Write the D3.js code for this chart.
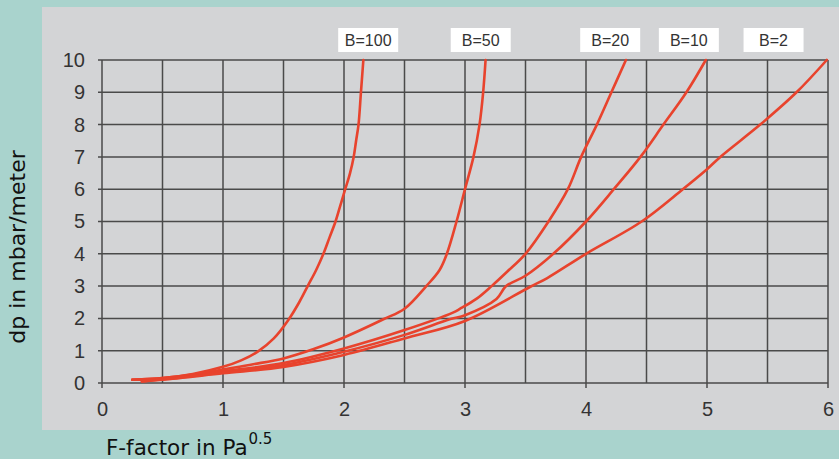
<!DOCTYPE html>
<html><head><meta charset="utf-8">
<script src="https://cdn.jsdelivr.net/npm/d3@7"></script>
<style>body{margin:0;padding:0;background:#a9d3cd;}svg{display:block;}</style>
</head><body>
<svg id="c" width="839" height="459"></svg>
<script>
const xTicks = [0,1,2,3,4,5,6];
const yTicks = [0,1,2,3,4,5,6,7,8,9,10];
const seriesNames = ["B=100","B=50","B=20","B=10","B=2"];
const b100 = [[0.25,0.1],[0.5,0.15],[0.75,0.28],[1.0,0.5],[1.15,0.7],[1.29,0.98],[1.42,1.38],[1.54,1.95],[1.63,2.5],[1.70,3.0],[1.77,3.5],[1.83,4.0],[1.88,4.5],[1.93,5.0],[1.97,5.5],[2.01,6.0],[2.05,6.5],[2.08,7.0],[2.10,7.5],[2.12,8.0],[2.14,9.0],[2.16,10]];
const b50 = [[0.25,0.1],[0.5,0.15],[0.75,0.26],[1.0,0.42],[1.25,0.58],[1.5,0.76],[1.75,1.05],[2.0,1.41],[2.33,1.98],[2.5,2.3],[2.68,3.0],[2.79,3.5],[2.85,4.0],[2.93,5.0],[3.0,6.0],[3.07,7.0],[3.12,8.0],[3.15,9.0],[3.17,10]];
const b20 = [[0.33,0.05],[0.5,0.12],[1.0,0.36],[1.5,0.62],[2.0,1.07],[2.5,1.64],[2.9,2.18],[2.96,2.3],[3.1,2.62],[3.22,3.0],[3.35,3.45],[3.5,4.0],[3.69,5.0],[3.85,6.0],[3.96,7.0],[4.09,8.0],[4.21,9.0],[4.33,10]];
const b10 = [[0.25,0.1],[0.5,0.12],[1.0,0.33],[1.5,0.56],[2.0,0.97],[2.5,1.49],[2.88,1.98],[3.0,2.1],[3.26,2.6],[3.34,3.0],[3.5,3.32],[3.73,4.0],[4.0,5.0],[4.23,6.0],[4.45,7.0],[4.64,8.0],[4.83,9.0],[4.99,10]];
const b2 = [[0.33,0.05],[0.5,0.1],[1.0,0.3],[1.5,0.5],[2.0,0.87],[2.5,1.38],[3.0,1.92],[3.54,2.98],[3.68,3.25],[4.0,4.0],[4.46,5.0],[4.80,6.0],[5.0,6.62],[5.11,7.0],[5.44,8.0],[5.74,9.0],[5.99,10]];
const seriesData = [b100,b50,b20,b10,b2];

const svg = d3.select("#c");
svg.append("rect").attr("x",0).attr("y",0).attr("width",839).attr("height",459).attr("fill","#a9d3cd");
svg.append("rect").attr("x",42).attr("y",7).attr("width",797).attr("height",423).attr("fill","#d3d4d6");

const x = d3.scaleLinear().domain([0,6]).range([102,828]);
const y = d3.scaleLinear().domain([0,10]).range([383,60]);
const gridCol = "#4a4a4a";

const g = svg.append("g");
g.selectAll("line.v").data(d3.range(0,6.01,0.5)).join("line")
  .attr("x1",d=>x(d)).attr("x2",d=>x(d))
  .attr("y1",y(10)).attr("y2",d=>Number.isInteger(d)?y(0)+5:y(0))
  .attr("stroke",gridCol).attr("stroke-width",1.5);
g.selectAll("line.h").data(yTicks).join("line")
  .attr("x1",x(0)-4).attr("x2",x(6))
  .attr("y1",d=>y(d)).attr("y2",d=>y(d))
  .attr("stroke",gridCol).attr("stroke-width",1.5);

const xa = svg.append("g").attr("transform",`translate(0,${y(0)+12})`).call(d3.axisBottom(x).tickValues(xTicks).tickSize(0).tickFormat(d3.format("d")));
const ya = svg.append("g").attr("transform",`translate(${x(0)-14},0)`).call(d3.axisLeft(y).tickValues(yTicks).tickSize(0).tickFormat(d3.format("d")));
[xa,ya].forEach(a=>{a.select(".domain").remove();a.selectAll("text").attr("font-family","Liberation Sans, Arial, sans-serif").attr("font-size",20).attr("fill","#333");});
xa.selectAll("text").attr("dy","0.9em");

const line = d3.line().x(d=>x(d[0])).y(d=>y(d[1])).curve(d3.curveCatmullRom.alpha(0.5));
svg.append("g").selectAll("path").data(seriesData).join("path")
  .attr("d",line).attr("fill","none").attr("stroke","#e8432d").attr("stroke-width",2.6)
  .attr("stroke-linejoin","round").attr("stroke-linecap","round");

const labelX = [2.2,3.13,4.2,4.85,5.55];
const lg = svg.append("g").selectAll("g").data(seriesNames).join("g")
  .attr("transform",(d,i)=>`translate(${x(labelX[i])},40)`);
lg.append("rect").attr("x",-30).attr("y",-12).attr("width",60).attr("height",24).attr("fill","#ffffff");
lg.append("text").text(d=>d).attr("text-anchor","middle").attr("dy","0.36em")
  .attr("font-family","Liberation Sans, Arial, sans-serif").attr("font-size",16).attr("fill","#333");

const xt = svg.append("text").attr("x",106).attr("y",455)
  .attr("font-family","DejaVu Sans, sans-serif").attr("font-size",21.5).attr("fill","#111");
xt.append("tspan").text("F-factor in Pa");
xt.append("tspan").text("0.5").attr("font-size",15).attr("dx",1).attr("dy",-11);

svg.append("text").attr("transform","translate(25,247) rotate(-90)").attr("text-anchor","middle")
  .attr("font-family","DejaVu Sans, sans-serif").attr("font-size",22).attr("fill","#111")
  .text("dp in mbar/meter");
</script>
</body></html>
